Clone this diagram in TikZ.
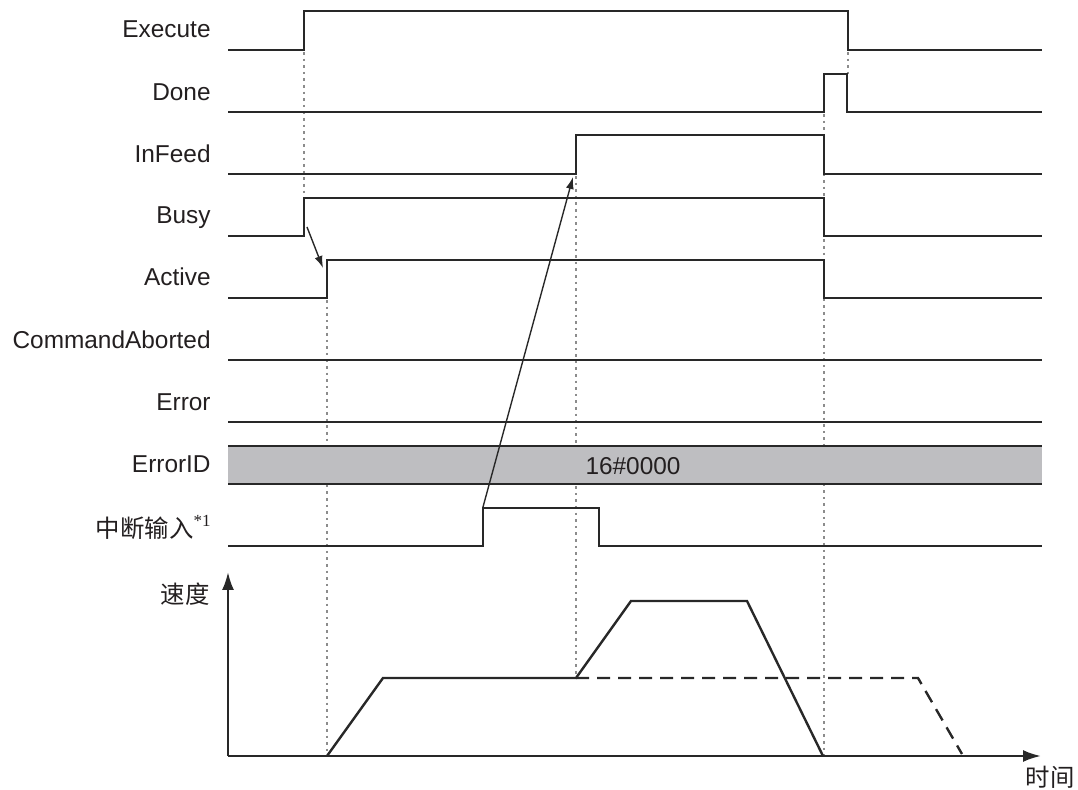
\documentclass[tikz,border=0pt]{standalone}
\usepackage{fontspec}
\setmainfont{Liberation Sans}
\newfontfamily\cjk{Noto Sans CJK SC}
\newfontfamily\serifnum{Liberation Serif}
\usetikzlibrary{arrows.meta}
\definecolor{ink}{RGB}{35,31,32}
\definecolor{wire}{RGB}{40,40,40}
\definecolor{errgray}{RGB}{190,190,193}
\tikzset{
  lbl/.style={anchor=base east, font=\fontsize{12.2}{14}\selectfont, text=ink, inner sep=0pt},
  sig/.style={draw=wire, line width=1.2pt, line join=miter},
  guide/.style={draw=gray!90, line width=1.1pt, dash pattern=on 1.3pt off 2pt},
  plan/.style={draw=wire, line width=1.2pt, dash pattern=on 6.5pt off 4pt},
  cause/.style={draw=wire, line width=0.7pt, -{Latex[length=6pt,width=4pt]}},
  axis/.style={draw=wire, line width=1.2pt, -{Latex[length=9pt,width=6pt]}}
}
\begin{document}
\begin{tikzpicture}[x=0.5pt,y=-0.5pt]
\useasboundingbox (0,0) rectangle (1078,790);
% labels
\node[lbl] (lExe) at (211,38) {Execute};
\node[lbl] (lDone) at (211,101) {Done};
\node[lbl] (lIn) at (211,163) {InFeed};
\node[lbl] (lBusy) at (211,224) {Busy};
\node[lbl] (lAct) at (211,286) {Active};
\node[lbl] (lCA) at (211,349) {CommandAborted};
\node[lbl] (lErr) at (211,411) {Error};
\node[lbl] (lEID) at (211,473) {ErrorID};
\node[lbl] (lInt) at (211,538) {\cjk 中断输入\raisebox{0.9ex}{\fontsize{8.5}{9}\serifnum *1}};
\node[lbl, anchor=center] (lV) at (185,594) {\cjk 速度};
\node[lbl, anchor=center] (lT) at (1050,777) {\cjk 时间};
% dotted guides
\draw[guide] (304,52) -- (304,198);
\draw[guide] (327,300) -- (327,756);
\draw[guide] (576,176) -- (576,678);
\draw[guide] (824,114) -- (824,756);
\draw[guide] (848,52) -- (848,74);
% ErrorID bus
\fill[errgray] (228,446) rectangle (1042,484);
\draw[sig] (228,446) -- (1042,446);
\draw[sig] (228,484) -- (1042,484);
\node[font=\fontsize{12.2}{14}\selectfont, text=ink] (eid) at (633,466) {16\#0000};
% signals
\draw[sig] (228,50) -- (304,50) -- (304,11) -- (848,11) -- (848,50) -- (1042,50);
\draw[sig] (228,112) -- (824,112) -- (824,74) -- (847,74) -- (847,112) -- (1042,112);
\draw[sig] (228,174) -- (576,174) -- (576,135) -- (824,135) -- (824,174) -- (1042,174);
\draw[sig] (228,236) -- (304,236) -- (304,198) -- (824,198) -- (824,236) -- (1042,236);
\draw[sig] (228,298) -- (327,298) -- (327,260) -- (824,260) -- (824,298) -- (1042,298);
\draw[sig] (228,360) -- (1042,360);
\draw[sig] (228,422) -- (1042,422);
\draw[sig] (228,546) -- (483,546) -- (483,508) -- (599,508) -- (599,546) -- (1042,546);
% cause arrows
\coordinate (bS) at (307,227);
\coordinate (aE) at (323,268);
\coordinate (iS) at (483,507);
\coordinate (fE) at (573,177);
\draw[cause] (bS) -- (aE);
\draw[cause] (iS) -- (fE);
% velocity axes
\coordinate (O) at (228,756);
\coordinate (Ytip) at (228,572);
\coordinate (Xtip) at (1041,756);
\draw[axis] (O) -- (Ytip);
\draw[axis] (O) -- (Xtip);
% profiles
\draw[plan] (576,678) -- (918,678) -- (962,754);
\draw[sig] (327,756) -- (383,678) -- (576,678) -- (631,601) -- (747,601) -- (823,756);
\end{tikzpicture}
\end{document}
